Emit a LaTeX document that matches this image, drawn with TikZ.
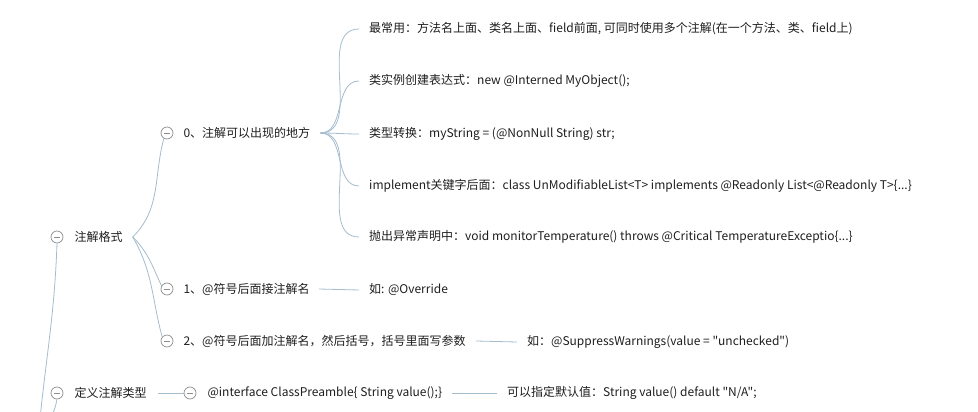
\documentclass[tikz,border=0pt]{standalone}
\usepackage{fontspec}
\setmainfont{Noto Sans CJK SC}[Ligatures=TeXOff]
\usetikzlibrary{positioning}
\definecolor{linkblue}{HTML}{A3BCCE}
\definecolor{circgray}{HTML}{8E8E8E}
\definecolor{txtgray}{HTML}{1E1E1E}

\begin{document}
\begin{tikzpicture}[x=1pt, y=-1pt, font=\fontsize{12}{14}\selectfont]
    % Node style
    \tikzstyle{collapse}=[circle,draw=circgray,fill=white,line width=0.7pt,minimum size=12pt,inner sep=0pt,
        path picture={\draw[circgray,line width=0.7pt] ([xshift=2.8pt]path picture bounding box.west) -- ([xshift=-2.8pt]path picture bounding box.east);}]
    \tikzstyle{item}=[inner sep=0pt,text=txtgray]
    \tikzstyle{link}=[draw=linkblue,line width=0.8pt]

    \useasboundingbox (0,0) rectangle (978,412);
    \clip (0,0) rectangle (978,412);

    % --- Level 1: 注解格式 / 定义注解类型 ---
    \node[collapse] (c_fmt) at (57,237) {};
    \node[item, right=11pt of c_fmt] (fmt) {注解格式};
    \node[collapse] (c_def) at (57,393) {};
    \node[item, right=11pt of c_def] (def) {定义注解类型};

    % Lines from the parent below the picture
    \coordinate (up_1) at (38,440);
    \coordinate (up_2) at (47,430);
    \draw[link] (c_fmt.south) to[out=-92,in=85] (up_1);
    \draw[link] (c_def.south) to[out=-100,in=75] (up_2);

    % --- Level 2: children of 注解格式 ---
    \coordinate (b_fmt) at ([xshift=10pt]fmt.east);
    \node[collapse] (c_where) at (167,133) {};
    \node[item, right=10pt of c_where] (where) {0、注解可以出现的地方};
    \node[collapse] (c_one) at (167,289) {};
    \node[item, right=10pt of c_one] (one) {1、@符号后面接注解名};
    \node[collapse] (c_two) at (167,341) {};
    \node[item, right=10pt of c_two] (two) {2、@符号后面加注解名，然后括号，括号里面写参数};

    \draw[link] (b_fmt) to[out=45,in=-105] (c_where.-120);
    \draw[link] (b_fmt) to[out=-45,in=115] (c_one.150);
    \draw[link] (b_fmt) to[out=-60,in=105] (c_two.140);

    % --- Level 3: places where an annotation may stand ---
    \coordinate (b_where) at ([xshift=10pt]where.east);
    \node[item, anchor=west] (w_1) at (369,29)  {最常用：方法名上面、类名上面、field前面, 可同时使用多个注解(在一个方法、类、field上)};
    \node[item, anchor=west] (w_2) at (369,81)  {类实例创建表达式：new @Interned MyObject();};
    \node[item, anchor=west] (w_3) at (369,134) {类型转换：myString = (@NonNull String) str;};
    \node[item, anchor=west] (w_4) at (369,186) {implement关键字后面：class UnModifiableList<T> implements @Readonly List<@Readonly T>\{...\}};
    \node[item, anchor=west] (w_5) at (369,237) {抛出异常声明中：void monitorTemperature() throws @Critical TemperatureExceptio\{...\}};

    \foreach \i in {1,...,5}
        \draw[link] (b_where) to[out=0,in=180] ([xshift=-10pt]w_\i.west);

    % --- Level 3: examples ---
    \node[item, anchor=west] (e_one) at (369,290) {如: @Override};
    \node[item, anchor=west] (e_two) at (527,342) {如：@SuppressWarnings(value = "unchecked")};
    \draw[link] ([xshift=9pt]one.east) -- ([xshift=-10pt]e_one.west);
    \draw[link] ([xshift=10pt]two.east) -- ([xshift=-10pt]e_two.west);

    % --- 定义注解类型 branch ---
    \node[collapse] (c_iface) at (190,393) {};
    \node[item, right=11pt of c_iface] (iface) {@interface ClassPreamble\{ String value();\}};
    \node[item, anchor=west] (dflt) at (507,393) {可以指定默认值：String value() default "N/A";};
    \draw[link] ([xshift=11pt]def.east) -- (c_iface.west);
    \draw[link] ([xshift=10pt]iface.east) -- ([xshift=-10pt]dflt.west);

\end{tikzpicture}
\end{document}
